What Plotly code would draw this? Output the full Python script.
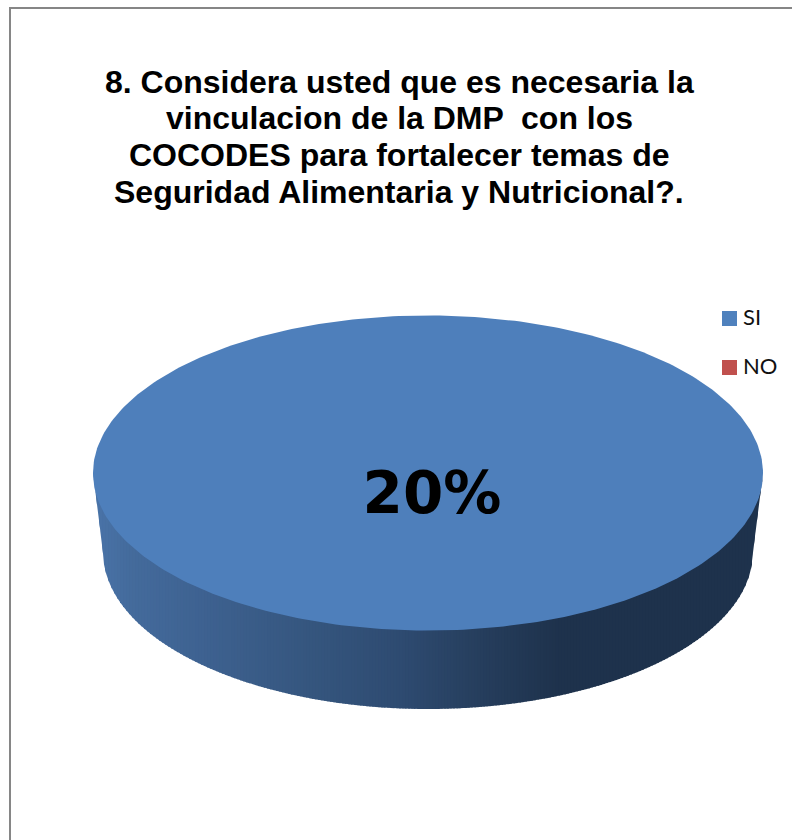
import numpy as np
import plotly.graph_objects as go

# Data as shown in the chart
categories = ["SI", "NO"]
values = [100, 0]
slice_label = "20%"
slice_colors = ["#4e7fbb", "#c0504d"]
title_lines = ["8. Considera usted que es necesaria la",
               "vinculacion de la DMP  con los",
               "COCODES para fortalecer temas de",
               "Seguridad Alimentaria y Nutricional?."]

# Pixel-space geometry of the tilted pie
CX, CY, RX, RY = 428, 473, 335, 157.5
BCX, BCY, BRX, BRY = 428, 552, 325, 157
side_stops_x = [93, 130, 200, 300, 400, 480, 560, 763]
side_stops_r = [74, 68, 62, 54, 46, 38, 30, 30]
side_stops_g = [116, 107, 98, 87, 75, 62, 50, 50]
side_stops_b = [168, 156, 145, 128, 113, 93, 76, 76]

def side_color(x):
    r = np.interp(x, side_stops_x, side_stops_r)
    g = np.interp(x, side_stops_x, side_stops_g)
    b = np.interp(x, side_stops_x, side_stops_b)
    return f"rgb({r:.0f},{g:.0f},{b:.0f})"

def top_edge(x):
    return CY + RY * np.sqrt(np.clip(1 - ((x - CX) / RX) ** 2, 0, 1))

def bottom_edge(x):
    x = np.asarray(x, dtype=float)
    ell = BCY + BRY * np.sqrt(np.clip(1 - ((x - BCX) / BRX) ** 2, 0, 1))
    left = np.interp(x, [CX - RX, BCX - BRX], [CY, BCY])
    right = np.interp(x, [BCX + BRX, CX + RX], [BCY, CY])
    return np.where(x < BCX - BRX, left, np.where(x > BCX + BRX, right, ell))

fig = go.Figure()

# Side wall: narrow vertical strips with a left-to-right shading
edges = np.linspace(CX - RX, CX + RX, 224)
for a, b in zip(edges[:-1], edges[1:]):
    b2 = min(b + 1.0, CX + RX)
    seg = np.linspace(a, b2, 5)
    xs = np.r_[seg, seg[::-1]]
    ys = np.r_[top_edge(seg) - 2, bottom_edge(seg)[::-1]]
    col = side_color((a + b) / 2)
    fig.add_trace(go.Scatter(x=xs, y=ys, mode="lines", fill="toself", fillcolor=col,
                             line=dict(width=0, color=col), hoverinfo="skip", showlegend=False))

# Top face, one sector per category
total = sum(values)
start = 0.0
for cat, val, col in zip(categories, values, slice_colors):
    frac = val / total
    if frac > 0:
        ts = np.linspace(start, start + frac * 2 * np.pi, 361)
        xs = CX + RX * np.cos(ts)
        ys = CY + RY * np.sin(ts)
        if frac < 1:
            xs, ys = np.r_[CX, xs], np.r_[CY, ys]
        fig.add_trace(go.Scatter(x=xs, y=ys, mode="lines", fill="toself", fillcolor=col,
                                 line=dict(width=0, color=col), name=cat,
                                 hoverinfo="name", showlegend=False))
    start += frac * 2 * np.pi

# Legend
legend_y = [318.5, 367.5]
for cat, col, ly in zip(categories, ["#4f81bd", "#c0504d"], legend_y):
    fig.add_trace(go.Scatter(x=[729.5], y=[ly], mode="markers",
                             marker=dict(symbol="square", size=15, color=col, line=dict(width=0)),
                             showlegend=False, hoverinfo="skip", cliponaxis=False))
    fig.add_trace(go.Scatter(x=[743], y=[ly + 1], mode="text", text=[cat],
                             textposition="middle right",
                             textfont=dict(family="Lato", size=22, color="#111111"),
                             showlegend=False, hoverinfo="skip", cliponaxis=False))

# Data label
fig.add_trace(go.Scatter(x=[432], y=[498], mode="text", text=[f"<b>{slice_label}</b>"],
                         textposition="middle center",
                         textfont=dict(family="DejaVu Sans", size=58, color="#000000"),
                         showlegend=False, hoverinfo="skip"))

# Title lines (tight leading, so one annotation per line)
title_y = [81.5, 118, 154.5, 191.5]
annotations = [dict(x=399, y=ly, xref="x", yref="y", text=f"<b>{line}</b>", showarrow=False,
                    xanchor="center", yanchor="middle",
                    font=dict(family="Liberation Sans", size=32, color="#000000"))
               for line, ly in zip(title_lines, title_y)]

fig.update_layout(
    width=792, height=840,
    margin=dict(l=0, r=0, t=0, b=0),
    paper_bgcolor="white", plot_bgcolor="white",
    showlegend=False,
    annotations=annotations,
    xaxis=dict(range=[0, 792], visible=False, fixedrange=True),
    yaxis=dict(range=[840, 0], visible=False, fixedrange=True),
    shapes=[
        dict(type="line", x0=10, x1=10, y0=7, y1=840, line=dict(color="#868686", width=2)),
        dict(type="line", x0=9, x1=792, y0=8, y1=8, line=dict(color="#868686", width=2)),
    ],
)

fig.write_html("out.html", config=dict(displayModeBar=False),
               post_script="document.body.style.margin='0';")
